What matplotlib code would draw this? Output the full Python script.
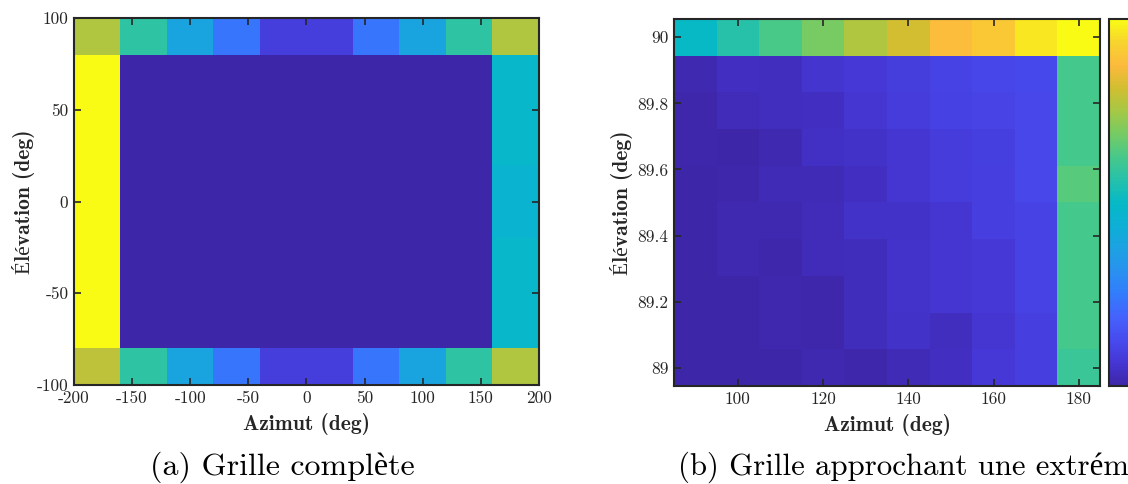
import numpy as np
import matplotlib
matplotlib.use("Agg")
import matplotlib.pyplot as plt
from matplotlib.colors import LinearSegmentedColormap

# full grid: azimuth / elevation cell centres (deg)
az_full = [-180, -140, -100, -60, -20, 20, 60, 100, 140, 180]
el_full = [-90, -70, -50, -30, -10, 10, 30, 50, 70, 90]
# normalised cost, rows go from el = -90 up to el = 90
cost_full = [
	[0.785, 0.575, 0.39, 0.235, 0.085, 0.085, 0.235, 0.39, 0.575, 0.765],
	[1.0, 0, 0, 0, 0, 0, 0, 0, 0, 0.485],
	[1.0, 0, 0, 0, 0, 0, 0, 0, 0, 0.485],
	[1.0, 0, 0, 0, 0, 0, 0, 0, 0, 0.485],
	[1.0, 0, 0, 0, 0, 0, 0, 0, 0, 0.46],
	[1.0, 0, 0, 0, 0, 0, 0, 0, 0, 0.46],
	[1.0, 0, 0, 0, 0, 0, 0, 0, 0, 0.485],
	[1.0, 0, 0, 0, 0, 0, 0, 0, 0, 0.485],
	[1.0, 0, 0, 0, 0, 0, 0, 0, 0, 0.485],
	[0.765, 0.575, 0.39, 0.235, 0.085, 0.085, 0.235, 0.39, 0.575, 0.765],
]

# zoomed grid near the pole
az_zoom = [90, 100, 110, 120, 130, 140, 150, 160, 170, 180]
el_zoom = [89.0, 89.1111, 89.2222, 89.3333, 89.4444, 89.5556, 89.6667, 89.7778, 89.8889, 90.0]
cost_zoom = [
	[0.0, 0.0, 0.0, 0.013, 0.005, 0.02, 0.036, 0.07, 0.087, 0.60],
	[0.0, 0.0, 0.01, 0.005, 0.028, 0.045, 0.033, 0.06, 0.087, 0.62],
	[0.0, 0.0, 0.01, 0.005, 0.028, 0.048, 0.061, 0.07, 0.10, 0.62],
	[0.0, 0.012, 0.005, 0.025, 0.028, 0.048, 0.061, 0.07, 0.10, 0.62],
	[0.0, 0.012, 0.012, 0.025, 0.045, 0.044, 0.061, 0.088, 0.10, 0.62],
	[0.0, 0.005, 0.02, 0.02, 0.036, 0.06, 0.08, 0.088, 0.115, 0.645],
	[0.005, 0.003, 0.015, 0.04, 0.045, 0.061, 0.08, 0.09, 0.115, 0.62],
	[0.005, 0.025, 0.033, 0.036, 0.06, 0.08, 0.095, 0.104, 0.115, 0.62],
	[0.013, 0.036, 0.033, 0.058, 0.07, 0.085, 0.10, 0.11, 0.12, 0.62],
	[0.50, 0.5625, 0.625, 0.6875, 0.765, 0.815, 0.875, 0.91, 0.965, 1.0],
]

full_xticks = [-200, -150, -100, -50, 0, 50, 100, 150, 200]
full_yticks = [-100, -50, 0, 50, 100]
zoom_xticks = [100, 120, 140, 160, 180]
zoom_yticks = [89, 89.2, 89.4, 89.6, 89.8, 90]
zoom_ylabels = ["89", "89.2", "89.4", "89.6", "89.8", "90"]

# parula-like colormap
parula = LinearSegmentedColormap.from_list("parula", [
	(0.0, (0.2422, 0.1504, 0.6603)),
	(0.0625, (0.2704, 0.2138, 0.8346)),
	(0.125, (0.2811, 0.2930, 0.9352)),
	(0.1875, (0.2710, 0.3860, 0.9898)),
	(0.25, (0.1986, 0.4864, 0.9887)),
	(0.3125, (0.1600, 0.5700, 0.9400)),
	(0.375, (0.1130, 0.6330, 0.8860)),
	(0.4375, (0.0490, 0.6880, 0.8350)),
	(0.5, (0.0250, 0.7250, 0.7770)),
	(0.5625, (0.1480, 0.7560, 0.6670)),
	(0.625, (0.2800, 0.7870, 0.5400)),
	(0.6875, (0.4600, 0.7980, 0.3900)),
	(0.75, (0.6500, 0.7830, 0.2700)),
	(0.8125, (0.8200, 0.7450, 0.1900)),
	(0.875, (0.9900, 0.7300, 0.2400)),
	(0.9375, (0.9700, 0.8300, 0.1800)),
	(1.0, (0.9769, 0.9839, 0.0805)),
], N=256)

plt.rcParams["font.family"] = ["cmr10", "Liberation Serif"]
plt.rcParams["axes.unicode_minus"] = False
plt.rcParams["axes.formatter.use_mathtext"] = True
edge = "#262626"
bold = ["cmb10", "Liberation Serif"]

fig = plt.figure(figsize=(11.28, 4.84), dpi=100)
ax1 = fig.add_axes([0.0656, 0.2045, 0.4122, 0.7583])
ax2 = fig.add_axes([0.5975, 0.2025, 0.3777, 0.7583])
cax = fig.add_axes([0.9832, 0.2025, 0.025, 0.7583])

ax1.pcolormesh(az_full, el_full, np.array(cost_full), cmap=parula, vmin=0, vmax=1, shading="nearest")
mesh = ax2.pcolormesh(az_zoom, el_zoom, np.array(cost_zoom), cmap=parula, vmin=0, vmax=1, shading="nearest")
cb = fig.colorbar(mesh, cax=cax)
cb.set_ticks([])
cb.outline.set_edgecolor(edge)
cb.outline.set_linewidth(1.5)

ax1.set_xlim(-200, 200)
ax1.set_ylim(-100, 100)
ax1.set_xticks(full_xticks, [str(t) for t in full_xticks])
ax1.set_yticks(full_yticks, [str(t) for t in full_yticks])
ax2.set_xticks(zoom_xticks, [str(t) for t in zoom_xticks])
ax2.set_yticks(zoom_yticks, zoom_ylabels)

for ax in (ax1, ax2):
	ax.tick_params(direction="in", top=True, right=True, length=5, width=1.2,
		color=edge, labelcolor=edge, labelsize=12.5, pad=4)
	for s in ax.spines.values():
		s.set_edgecolor(edge)
		s.set_linewidth(1.5)
	ax.set_xlabel("Azimut (deg)", family=bold, fontsize=15.5, color=edge)
	ax.set_ylabel("Élévation (deg)", family=bold, fontsize=15.5, color=edge)

ax1.xaxis.set_label_coords(0.5, -0.075)
ax2.xaxis.set_label_coords(0.5, -0.075)
ax1.yaxis.set_label_coords(-0.084, 0.5)
ax2.yaxis.set_label_coords(-0.096, 0.5)

fig.text(0.25, 0.019, "(a) Grille complète", ha="center", va="baseline", fontsize=23)
fig.text(0.601, 0.019, "(b) Grille approchant une extrémité", ha="left", va="baseline", fontsize=22.2)

fig.savefig("out.png", dpi=100)
